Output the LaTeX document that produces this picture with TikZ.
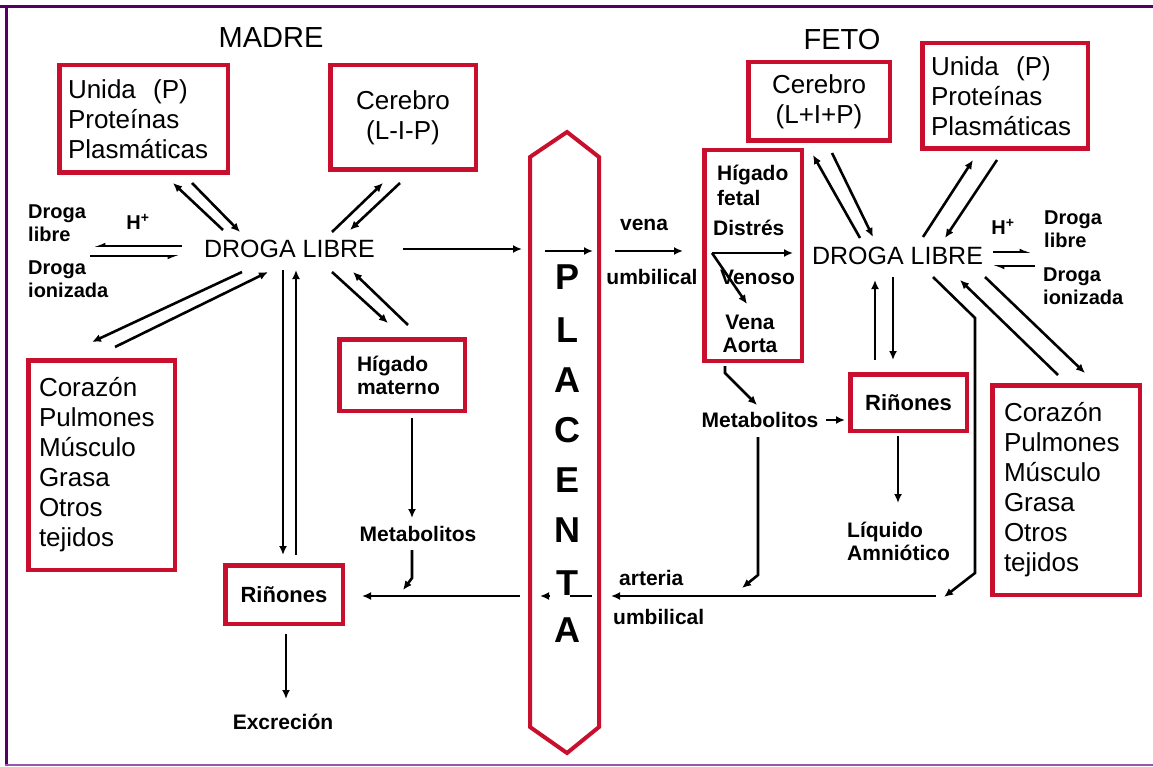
\documentclass[tikz,border=0pt]{standalone}
\usepackage{fontspec}
\setmainfont{Liberation Sans}
\usetikzlibrary{arrows.meta}

\definecolor{boxred}{RGB}{200,16,46}
\definecolor{framepurple}{RGB}{84,0,96}
\definecolor{framelilac}{RGB}{155,85,175}

\tikzset{
  rbox/.style={draw=boxred, line width=4.5pt, inner sep=0pt, font=\fontsize{26}{30}\selectfont},
  rinbox/.style={rbox, font=\bfseries\fontsize{22}{25}\selectfont},
  lbl/.style={inner sep=0pt, font=\bfseries\fontsize{21}{23}\selectfont},
  sml/.style={inner sep=0pt, font=\bfseries\fontsize{20}{23}\selectfont},
  ttl/.style={inner sep=0pt, font=\fontsize{29}{34}\selectfont},
  droga/.style={inner sep=0pt, font=\fontsize{25}{30}\selectfont},
  plac/.style={inner sep=0pt, font=\bfseries\fontsize{36}{40}\selectfont},
  arr/.style={line width=2.6pt, -{Latex[length=9pt,width=8pt]}},
  harp/.style={line width=2.6pt, -{Latex[harpoon,length=9pt,width=7pt]}},
  harps/.style={line width=2.6pt, -{Latex[harpoon,swap,length=9pt,width=7pt]}}
}

\begin{document}
\begin{tikzpicture}[x=1pt,y=-1pt]
\useasboundingbox (0,0) rectangle (1153,767);
% frame
\draw[framepurple, line width=3.5pt] (0,6.5) -- (1153,6.5);
\draw[framepurple, line width=3.5pt] (6.5,5) -- (6.5,765);
\draw[framelilac, line width=2pt] (5,764.5) -- (1153,764.5);

\node[ttl] (madre) at (271,38) {MADRE};
\node[ttl] (feto) at (842,40) {FETO};

% madre
\node[rbox, minimum width=168.5pt, minimum height=107.5pt, text width=151pt, align=left] (unidaM) at (143.5,119) {Unida\ \ (P)\\Proteínas\\Plasmáticas};
\node[rbox, minimum width=145.5pt, minimum height=104.5pt, align=center] (cereM) at (403,117.5) {Cerebro\\(L-I-P)};
\node[rbox, minimum width=146.5pt, minimum height=209.5pt, text width=125pt, align=left] (corM) at (101.5,465) {Corazón\\Pulmones\\Músculo\\Grasa\\Otros\\tejidos};
\node[rinbox, font=\bfseries\fontsize{21}{23}\selectfont, minimum width=125.5pt, minimum height=71.5pt, text width=90pt, align=left] (higM) at (402,375) {Hígado\\materno};
\node[rinbox, minimum width=117.5pt, minimum height=58.5pt] (rinM) at (284,594.5) {Riñones};

\node[droga] (drogaM) at (289.5,249) {DROGA LIBRE};
\node[sml, anchor=west, align=left] (libreM) at (28,223.5) {Droga\\libre};
\node[sml, anchor=west, align=left] (ionM) at (28,279.5) {Droga\\ionizada};
\node[sml] (hM) at (138,222) {H\textsuperscript{+}};
\node[lbl] (metM) at (418,534) {Metabolitos};
\node[lbl] (excr) at (283,722) {Excreción};

\draw[harps] (182,246) -- (93,246);
\draw[harps] (90,256) -- (180,256);
\draw[arr] (223,230) -- (173,183);
\draw[arr] (192,183) -- (240,232);
\draw[arr] (332,232) -- (383,183);
\draw[arr] (400,183) -- (350,230);
\draw[arr] (242,272) -- (92,342);
\draw[arr] (115,347) -- (268,272);
\draw[arr] (332,272) -- (388,323);
\draw[arr] (408,325) -- (353,272);
\draw[arr] (283,270) -- (283,555);
\draw[arr] (296,555) -- (296,270);
\draw[arr] (412,418) -- (412,518);
\draw[arr] (412,550) -- (412,578) -- (403,590);
\draw[arr] (286,634) -- (286,699);
\draw[arr] (520,596) -- (362,596);

% placenta
\draw[boxred, line width=4pt] (567,132) -- (599,157) -- (599,727) -- (567,753) -- (530,727) -- (530,157) -- cycle;
\foreach \l/\y in {P/277,L/330,A/380,C/430,E/480,N/530,T/583,A/630}
  \node[plac] (pl\y) at (567,\y) {\l};
\draw[arr] (403,249) -- (522,249);
\draw[arr] (545,251) -- (593,251);
\draw[line width=2.6pt] (592,596) -- (570,596);
\draw[arr] (550,596) -- (540,596);

% feto
\node[rbox, minimum width=141.5pt, minimum height=78.5pt, align=center] (cereF) at (819,101.5) {Cerebro\\(L+I+P)};
\node[rbox, minimum width=165.5pt, minimum height=105.5pt, text width=148pt, align=left] (unidaF) at (1005,96) {Unida\ \ (P)\\Proteínas\\Plasmáticas};
\node[rbox, minimum width=97.5pt, minimum height=210.5pt] (higF) at (753,255.5) {};
\node[lbl, font=\bfseries\fontsize{21}{25}\selectfont, anchor=west, align=left] (higT) at (717,185.5) {Hígado\\fetal};
\node[lbl, anchor=west] (distres) at (713,228) {Distrés};
\node[lbl, anchor=west] (venoso) at (720,277) {Venoso};
\node[lbl, align=center] (aorta) at (750,333.5) {Vena\\Aorta};
\node[rinbox, minimum width=116.5pt, minimum height=56.5pt] (rinF) at (908.5,402.5) {Riñones};
\node[rbox, minimum width=147.5pt, minimum height=209.5pt, text width=124pt, align=left] (corF) at (1066,490) {Corazón\\Pulmones\\Músculo\\Grasa\\Otros\\tejidos};

\node[droga] (drogaF) at (897.5,256) {DROGA LIBRE};
\node[sml] (hF) at (1003,227) {H\textsuperscript{+}};
\node[sml, anchor=west, align=left] (libreF) at (1044,229.5) {Droga\\libre};
\node[sml, anchor=west, align=left] (ionF) at (1043,286) {Droga\\ionizada};
\node[lbl] (metF) at (760,420) {Metabolitos};
\node[lbl, anchor=west, align=left] (liqF) at (847,541.5) {Líquido\\Amniótico};
\node[lbl] (vena) at (644,225) {vena};
\node[lbl] (umbV) at (652,277) {umbilical};
\node[lbl, anchor=west] (arteria) at (619,578) {arteria};
\node[lbl, anchor=west] (umbA) at (613,617) {umbilical};

\draw[arr] (615,251) -- (683,251);
\draw[arr] (712,253) -- (793,253);
\draw[arr] (712,253) -- (747,304);
\draw[arr] (725,366) -- (725,373) -- (757,405);
\draw[arr] (826,420) -- (845,420);
\draw[arr] (758,437) -- (758,575) -- (742,588);
\draw[arr] (898,436) -- (898,503);
\draw[arr] (936,596) -- (611,596);

\draw[arr] (860,238) -- (813,155);
\draw[arr] (832,153) -- (873,237);
\draw[arr] (923,237) -- (973,160);
\draw[arr] (997,160) -- (945,238);
\draw[harp] (993,252) -- (1032,252);
\draw[harp] (1035,266) -- (992,266);
\draw[arr] (875,360) -- (875,280);
\draw[arr] (893,277) -- (893,360);
\draw[arr] (933,277) -- (975,318) -- (975,573) -- (944,597);
\draw[arr] (1058,375) -- (960,280);
\draw[arr] (985,277) -- (1085,373);
\end{tikzpicture}
\end{document}
